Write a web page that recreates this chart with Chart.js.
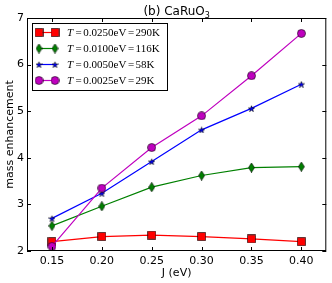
<!DOCTYPE html>
<html>
<head>
<meta charset="utf-8">
<script src="https://cdn.jsdelivr.net/npm/chart.js@4.4.1/dist/chart.umd.min.js"></script>
<style>
  html, body { margin: 0; padding: 0; background: #fff; }
  #c { display: block; }
</style>
</head>
<body>
<canvas id="c" width="332" height="283"></canvas>
<script>
// data
const jValues = [0.15, 0.20, 0.25, 0.30, 0.35, 0.40];
const yTicks = [2, 3, 4, 5, 6, 7];
const seriesLabels = ["0.0250eV=290K", "0.0100eV=116K", "0.0050eV=58K", "0.0025eV=29K"];
const mass290K = [2.20, 2.31, 2.34, 2.31, 2.26, 2.20];
const mass116K = [2.54, 2.96, 3.37, 3.62, 3.79, 3.81];
const mass58K  = [2.70, 3.24, 3.92, 4.60, 5.06, 5.58];
const mass29K  = [2.10, 3.35, 4.22, 4.90, 5.76, 6.67];

function makeMarker(shape, fill, w, h) {
    let cv = document.createElement("canvas");
    cv.width = w; cv.height = h;
    let c = cv.getContext("2d");
    let cx = w / 2, cy = h / 2;
    c.fillStyle = fill;
    c.strokeStyle = "#000";
    c.lineWidth = 0.6;
    c.beginPath();
    if (shape == "square") {
        c.rect(0.5, 0.5, w - 1, h - 1);
    } else if (shape == "circle") {
        c.arc(cx, cy, w / 2 - 0.5, 0, Math.PI * 2);
    } else if (shape == "diamond") {
        c.moveTo(cx, 0.3); c.lineTo(w - 0.5, cy); c.lineTo(cx, h - 0.3); c.lineTo(0.5, cy);
        c.closePath();
    } else if (shape == "star") {
        let R = w / 2 - 0.3, r = R * 0.4;
        for (let i = 0; i < 10; i++) {
            let a = -Math.PI / 2 + i * Math.PI / 5;
            let rr = i % 2 == 0 ? R : r;
            let px = cx + rr * Math.cos(a), py = cy + rr * Math.sin(a) + 0.5;
            if (i == 0) c.moveTo(px, py); else c.lineTo(px, py);
        }
        c.closePath();
    }
    c.fill();
    c.stroke();
    return cv;
}

const markers = [
    makeMarker("square", "#ff0000", 9, 9),
    makeMarker("diamond", "#008000", 7, 10),
    makeMarker("star", "#0000ff", 7, 7),
    makeMarker("circle", "#bf00bf", 9, 9)
];
const colors = ["#ff0000", "#008000", "#0000ff", "#bf00bf"];
const allSeries = [mass290K, mass116K, mass58K, mass29K];

function toPoints(arr) {
    return arr.map((v, i) => ({ x: jValues[i], y: v }));
}

const datasets = allSeries.map((arr, i) => ({
    label: "T=" + seriesLabels[i],
    data: toPoints(arr),
    borderColor: colors[i],
    backgroundColor: colors[i],
    borderWidth: 1.2,
    pointStyle: markers[i],
    order: 4 - i,
    tension: 0
}));

const framePlugin = {
    id: "frame",
    afterDraw(chart) {
        let ctx = chart.ctx;
        let a = chart.chartArea;
        let xs = chart.scales.x, ys = chart.scales.y;
        ctx.save();
        ctx.strokeStyle = "#000";
        ctx.lineWidth = 1;
        ctx.strokeRect(a.left + 0.5, a.top + 0.5, a.right - a.left - 1, a.bottom - a.top - 1);
        ctx.beginPath();
        jValues.forEach(v => {
            let px = Math.round(xs.getPixelForValue(v)) + 0.5;
            ctx.moveTo(px, a.bottom); ctx.lineTo(px, a.bottom - 4);
            ctx.moveTo(px, a.top); ctx.lineTo(px, a.top + 4);
        });
        yTicks.forEach(v => {
            let py = Math.round(ys.getPixelForValue(v)) + 0.5;
            ctx.moveTo(a.left, py); ctx.lineTo(a.left + 4, py);
            ctx.moveTo(a.right, py); ctx.lineTo(a.right - 4, py);
        });
        ctx.stroke();

        // title
        let cx = (a.left + a.right) / 2;
        ctx.fillStyle = "#000";
        ctx.textBaseline = "alphabetic";
        let main = "(b) CaRuO";
        ctx.font = "12px 'DejaVu Sans'";
        let wMain = ctx.measureText(main).width;
        ctx.font = "8px 'DejaVu Sans'";
        let wSub = ctx.measureText("3").width;
        let x0 = cx - (wMain + wSub) / 2;
        ctx.font = "12px 'DejaVu Sans'";
        ctx.textAlign = "left";
        ctx.fillText(main, x0, 15);
        ctx.font = "8px 'DejaVu Sans'";
        ctx.fillText("3", x0 + wMain, 18);

        // legend
        let lx = a.left + 5, ly = a.top + 5;
        ctx.fillStyle = "#fff";
        ctx.fillRect(lx, ly, 135, 67);
        ctx.strokeStyle = "#000";
        ctx.strokeRect(lx + 0.5, ly + 0.5, 135, 67);
        for (let i = 0; i < 4; i++) {
            let yy = ly + 9.5 + i * 16;
            ctx.strokeStyle = colors[i];
            ctx.lineWidth = 1.2;
            ctx.beginPath();
            ctx.moveTo(lx + 7, yy); ctx.lineTo(lx + 23, yy);
            ctx.stroke();
            [lx + 7, lx + 23].forEach(mx => {
                let m = markers[i];
                ctx.drawImage(m, mx - m.width / 2, yy - m.height / 2);
            });
            ctx.fillStyle = "#000";
            ctx.textBaseline = "middle";
            ctx.font = "italic 11px 'Liberation Serif'";
            let tx = lx + 35;
            ctx.fillText("T", tx, yy + 0.5);
            tx += ctx.measureText("T").width + 1;
            ctx.font = "11px 'Liberation Serif'";
            let parts = seriesLabels[i].split("=");
            ctx.fillText("=", tx + 1.5, yy + 0.5);
            tx += ctx.measureText("=").width + 3;
            ctx.fillText(parts[0], tx, yy + 0.5);
            tx += ctx.measureText(parts[0]).width;
            ctx.fillText("=", tx + 1.5, yy + 0.5);
            tx += ctx.measureText("=").width + 3;
            ctx.fillText(parts[1], tx, yy + 0.5);
        }
        ctx.restore();
    }
};

const config = {
    type: "line",
    data: { datasets: datasets },
    options: {
        responsive: false,
        animation: false,
        layout: { padding: { top: 18, right: 5, left: 0, bottom: 0 } },
        elements: { point: { radius: 4.5 } },
        plugins: { legend: { display: false }, tooltip: { enabled: false } },
        scales: {
            x: {
                type: "linear",
                min: 0.125,
                max: 0.425,
                afterBuildTicks: scale => { scale.ticks = jValues.map(v => ({ value: v })); },
                afterFit: scale => { scale.height = 32; },
                grid: { display: false, drawTicks: false },
                border: { display: false },
                ticks: {
                    color: "#000",
                    padding: 4,
                    maxRotation: 0,
                    font: { family: "DejaVu Sans", size: 11 },
                    callback: v => v.toFixed(2)
                },
                title: {
                    display: true,
                    text: "J (eV)",
                    color: "#000",
                    font: { family: "DejaVu Sans", size: 11 },
                    padding: { top: 0, bottom: 3 }
                }
            },
            y: {
                min: 2,
                max: 7,
                afterBuildTicks: scale => { scale.ticks = yTicks.map(v => ({ value: v })); },
                afterFit: scale => { scale.width = 27; },
                grid: { display: false, drawTicks: false },
                border: { display: false },
                ticks: {
                    color: "#000",
                    padding: 3,
                    font: { family: "DejaVu Sans", size: 11 }
                },
                title: {
                    display: true,
                    text: "mass enhancement",
                    color: "#000",
                    font: { family: "DejaVu Sans", size: 11 },
                    padding: { top: 4, bottom: 0 }
                }
            }
        }
    },
    plugins: [framePlugin]
};

let ctx = document.getElementById("c").getContext("2d");
new Chart(ctx, config);
</script>
</body>
</html>
